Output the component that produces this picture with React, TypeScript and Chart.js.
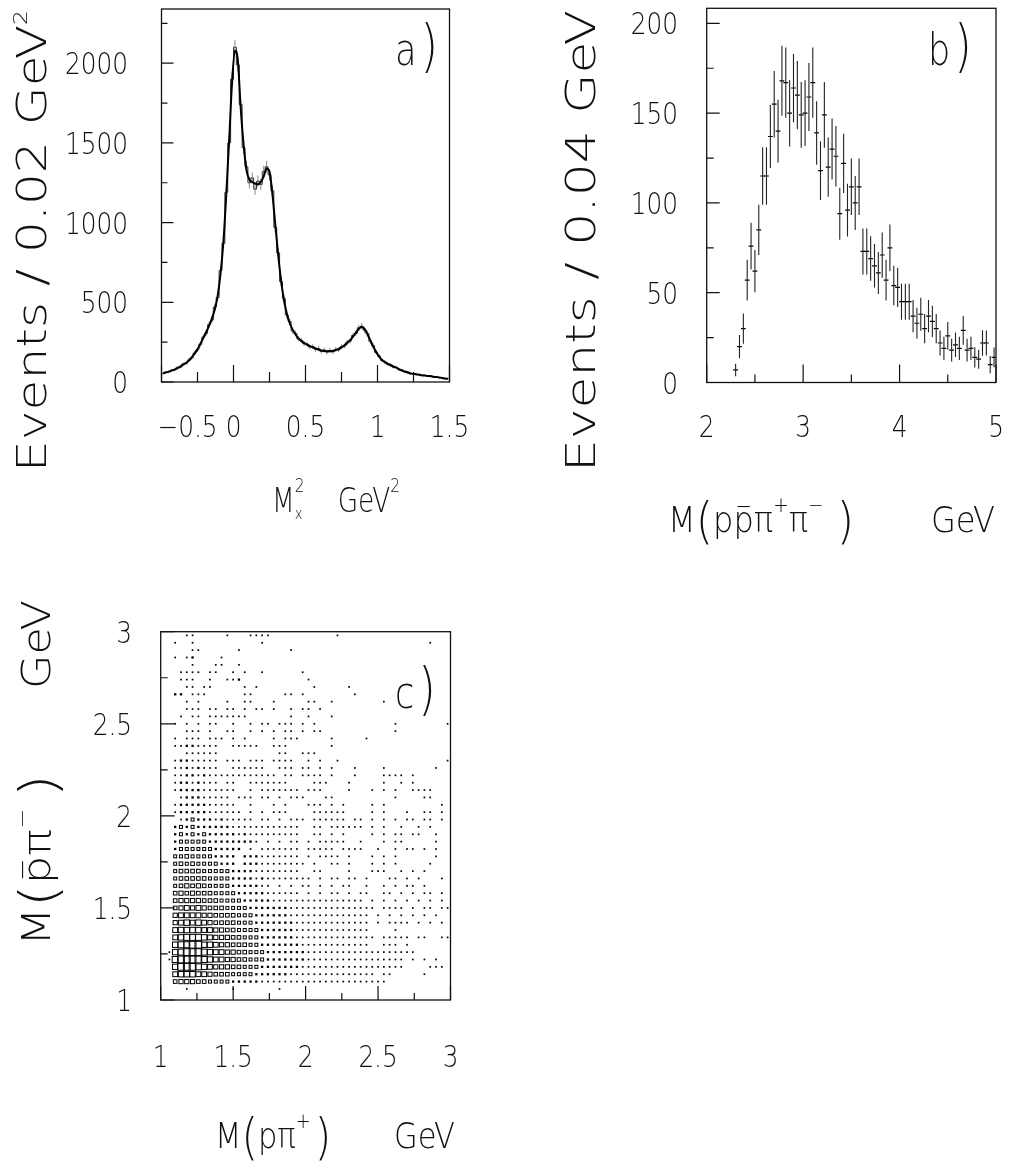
import React, { useEffect, useRef } from "react";
import { Chart, registerables } from "chart.js";
Chart.register(...registerables);

const W = 1010;
const H = 1169;
const FONT_FAMILY = "'DejaVu Sans', 'Liberation Sans', sans-serif";
const FONT_WEIGHT = 200;

// ---------------- Panel a : M_x^2 ----------------
const A_BIN_LO = -0.5;
const A_BIN_W = 0.02;
const A_HIST = [
  52, 62, 63, 74, 76, 90, 93, 112, 116, 138,
  152, 182, 203, 236, 282, 305, 360, 388, 470, 530,
  700, 870, 1190, 1500, 1900, 2100, 1990, 1740, 1470, 1350,
  1250, 1280, 1210, 1260, 1240, 1320, 1350, 1300, 1200, 970,
  810, 630, 525, 420, 380, 320, 305, 270, 262, 240,
  238, 220, 222, 205, 210, 192, 200, 188, 198, 190,
  205, 202, 222, 226, 250, 258, 292, 305, 340, 350,
  325, 305, 255, 228, 186, 164, 136, 128, 112, 108,
  94, 92, 78, 74, 64, 62, 52, 53, 46, 47,
  40, 42, 36, 38, 31, 33, 27, 26, 21, 22,
];
const A_FIT = [
  56, 60, 65, 71, 78, 86, 96, 108, 120, 134,
  155, 178, 205, 240, 275, 312, 352, 398, 455, 540,
  680, 880, 1180, 1520, 1880, 2080, 2020, 1720, 1490, 1330,
  1270, 1255, 1245, 1240, 1255, 1290, 1340, 1320, 1180, 990,
  800, 640, 515, 430, 370, 330, 300, 275, 258, 245,
  235, 225, 218, 210, 203, 198, 195, 193, 193, 195,
  200, 207, 217, 230, 245, 263, 285, 310, 333, 345,
  333, 300, 262, 222, 190, 160, 140, 125, 115, 105,
  97, 90, 80, 72, 66, 60, 54, 51, 48, 45,
  42, 40, 38, 36, 33, 31, 28, 25, 22, 20,
];
const A_X_MAJOR = [-0.5, 0, 0.5, 1, 1.5];
const A_X_MINOR = [-0.25, 0.25, 0.75, 1.25];
const A_X_LABELS = ["\u22120.5", "0", "0.5", "1", "1.5"];
const A_Y_MAJOR = [0, 500, 1000, 1500, 2000];
const A_Y_MINOR = [250, 750, 1250, 1750, 2250];
const A_Y_LABELS = ["0", "500", "1000", "1500", "2000"];

// ---------------- Panel b : M(p pbar pi+ pi-) ----------------
const B_BIN_LO = 2.28;
const B_BIN_W = 0.04;
const B_COUNTS = [
  7, 20, 30, 57, 76, 62, 85, 115, 115, 137,
  155, 140, 168, 167, 150, 164, 160, 149, 150, 159,
  167, 139, 118, 149, 120, 130, 126, 94, 122, 96,
  109, 100, 109, 73, 73, 69, 65, 61, 71, 57,
  75, 54, 53, 45, 45, 45, 37, 33, 38, 30,
  37, 34, 30, 22, 19, 26, 18, 21, 19, 29,
  18, 19, 14, 13, 22, 22, 10, 14,
];
const B_ERRORS = [
  3.5, 6.5, 8.4, 11.3, 13, 11.8, 14, 16, 16, 17.5,
  18.5, 17.5, 19.5, 19.5, 18.5, 19, 19, 18.3, 18.3, 19,
  19.5, 17.7, 16.3, 18.3, 16.5, 17, 16.8, 14.5, 16.5, 14.7,
  15.7, 15, 15.7, 12.8, 12.8, 12.4, 12.1, 11.7, 12.6, 11.3,
  13, 11, 10.9, 10, 10, 10, 9, 8.6, 9.2, 8.2,
  9, 8.7, 8.2, 7, 6.5, 7.7, 6.3, 6.8, 6.5, 8,
  6.3, 6.5, 5.7, 5.3, 7.1, 7, 4.8, 5.5,
];
const B_X_MAJOR = [2, 3, 4, 5];
const B_X_MINOR = [2.5, 3.5, 4.5];
const B_X_LABELS = ["2", "3", "4", "5"];
const B_Y_MAJOR = [0, 50, 100, 150, 200];
const B_Y_MINOR = [25, 75, 125, 175];
const B_Y_LABELS = ["0", "50", "100", "150", "200"];

// ---------------- Panel c : box plot ----------------
const C_BIN_LO = 1;
const C_BIN_W = 0.04;
// rows from the top (y = 3.00) down to y = 1.00; one digit per x-bin (0 = empty, 9 = largest box)
const C_ROWS = [
  "0000110000 0100011110 0000000000 1000000000 0000000000",
  "0010010000 0000000100 0000000000 0000000000 0000001000",
  "0000011000 0001000000 0010000000 0000000000 0000000000",
  "0010120000 1000000000 0000000000 0000000000 0000000000",
  "0000010001 1001000000 0000000000 0000000000 0000000000",
  "0001111011 0010100100 0000100000 0000000000 0000000000",
  "0001110010 0112000000 0000010000 0000000000 0000000000",
  "0000110110 0000101000 0000001000 0010000000 0000000000",
  "0022011100 0000110000 0110100000 0001000000 0000000000",
  "0000101000 0100110001 0000011001 0000000010 0000000000",
  "0000111011 0110101101 0010110100 0000000000 0000000000",
  "0001011011 1111100000 0010010001 0000000000 0000000000",
  "0010101011 0010010110 1110101000 0000000000 1000000001",
  "0000111010 0110010101 0110101100 0000000000 1000000000",
  "0010111011 1010100001 0111000001 0000010000 0000000000",
  "0011221111 0011111001 1100000001 0000000000 0000000000",
  "0000111111 0000000000 1100111000 0000000000 0000000000",
  "0012211111 0111011101 1110010100 1000000000 0000000001",
  "0011212111 0011111100 1110110101 0001000010 0000000100",
  "0011221211 1111111111 0110111101 0001000011 1101000000",
  "0012212111 0110011111 1100001110 0010000010 0101000000",
  "0012222111 1110010111 1111011100 0010001010 1001111000",
  "0001222111 1101110110 1011100011 0000000000 1000011000",
  "0012222211 1110010001 0100011101 0100001010 0000000010",
  "0012222211 1111010101 1100001111 1100001010 0010011010",
  "0001232221 2111110110 1011101111 1101101010 1011011010",
  "0023232222 2211111111 1111001101 1111101010 0100101000",
  "0023232322 2221211111 1111001101 0100001010 1101100100",
  "0023333322 2222221010 1011010111 1100100010 1100000100",
  "0023333332 2222010111 1111011111 0111100100 1011010100",
  "0033433332 2220222111 1111010111 1010001010 1000000100",
  "0034343333 2220222111 1111101001 1010001010 1000001000",
  "0034444333 3322221111 1111001100 0010001110 0101010000",
  "0034444433 3322221211 1111110101 1011010001 1010100010",
  "0034545433 3322222110 1010110101 0110010010 1011010000",
  "0045454443 3332222211 1111010101 1010110011 0101011010",
  "0045555444 3333222221 1111111111 1111101010 1010101010",
  "0045656544 4333322222 2211111111 1111111011 1101011011",
  "0056666554 4443332222 2211111111 1111110101 0101010100",
  "0056767654 4443332222 2221111111 1111110101 1110101010",
  "0067777665 5443333222 2221111111 1111110000 1000000000",
  "0067888765 5544333222 2221111111 1111111011 1110110011",
  "0078899776 5544433222 2222111111 1111110011 1010000000",
  "0178999876 6554433322 2222211111 1111111111 1111000000",
  "0189999876 6554433322 2222211111 1111111111 1101010100",
  "0079998765 5544333222 2222111111 1111111111 1100001110",
  "0067776654 4433332222 2211111111 1111111011 0000010000",
  "0045554433 3322222111 1111111111 1111111110 0000000000",
  "0000100000 0010000000 1000000000 0000000000 0000000000",
  "0000000000 0000000000 0000000000 0000000000 0000000000",
];
const C_TICK_MAJOR = [1, 1.5, 2, 2.5, 3];
const C_TICK_MINOR = [1.25, 1.75, 2.25, 2.75];
const C_TICK_LABELS = ["1", "1.5", "2", "2.5", "3"];

// ---------------- drawing styles ----------------
const BOX_SIZE = [0, 1.7, 2.3, 3.0, 3.6, 4.2, 4.8, 5.4, 6.0, 6.8];

type Piece = { s: string; cap: number; dy?: number; gap?: number; noAdv?: boolean; bar?: boolean };

function fontFor(cap: number) {
  return `${FONT_WEIGHT} ${(cap / 0.729).toFixed(2)}px ${FONT_FAMILY}`;
}

function drawRich(
  ctx: CanvasRenderingContext2D,
  x: number,
  y: number,
  pieces: Piece[],
  opts: { rot?: number; width?: number; sx?: number; align?: "left" | "center" | "right" } = {}
) {
  const sx0 = opts.sx ?? 0.82;
  ctx.save();
  const widths = pieces.map((p) => {
    ctx.font = fontFor(p.cap);
    return ctx.measureText(p.s).width * sx0;
  });
  let nat = 0;
  pieces.forEach((p, i) => {
    nat += p.gap || 0;
    if (!p.noAdv) nat += widths[i];
  });
  const k = opts.width ? opts.width / nat : 1;
  const total = nat * k;
  ctx.translate(x, y);
  if (opts.rot) ctx.rotate(opts.rot);
  let cx = opts.align === "center" ? -total / 2 : opts.align === "right" ? -total : 0;
  ctx.fillStyle = "#111";
  ctx.strokeStyle = "#111";
  ctx.textBaseline = "alphabetic";
  ctx.textAlign = "left";
  pieces.forEach((p, i) => {
    cx += (p.gap || 0) * k;
    const dy = p.dy || 0;
    ctx.save();
    ctx.translate(cx, dy);
    ctx.scale(sx0 * k, 1);
    ctx.font = fontFor(p.cap);
    ctx.fillText(p.s, 0, 0);
    ctx.restore();
    if (p.bar) {
      ctx.lineWidth = 1.1;
      ctx.beginPath();
      const yb = dy - p.cap * 0.98;
      ctx.moveTo(cx + widths[i] * k * 0.2, yb);
      ctx.lineTo(cx + widths[i] * k * 0.8, yb);
      ctx.stroke();
    }
    if (!p.noAdv) cx += widths[i] * k;
  });
  ctx.restore();
}

type AxisCfg = {
  major: number[];
  minor: number[];
  majorLen: number;
  minorLen: number;
  labels: string[];
  labelDx?: number[];
};
type FrameCfg = { x: AxisCfg; y: AxisCfg; xLabelBaseline: number; yLabelRight: number; cap: number };

function framePlugin(cfg: FrameCfg, drawExtra: (ctx: CanvasRenderingContext2D) => void) {
  return {
    id: "pawFrame",
    afterDraw(chart: any) {
      const { ctx, chartArea: ca } = chart;
      const xs = chart.scales.x;
      const ys = chart.scales.y;
      ctx.save();
      ctx.strokeStyle = "#111";
      ctx.lineWidth = 1.3;
      ctx.strokeRect(ca.left, ca.top, ca.right - ca.left, ca.bottom - ca.top);
      ctx.lineWidth = 1.2;
      ctx.beginPath();
      cfg.x.major.forEach((v) => {
        const p = xs.getPixelForValue(v);
        ctx.moveTo(p, ca.bottom);
        ctx.lineTo(p, ca.bottom - cfg.x.majorLen);
      });
      cfg.x.minor.forEach((v) => {
        const p = xs.getPixelForValue(v);
        ctx.moveTo(p, ca.bottom);
        ctx.lineTo(p, ca.bottom - cfg.x.minorLen);
      });
      cfg.y.major.forEach((v) => {
        const p = ys.getPixelForValue(v);
        ctx.moveTo(ca.left, p);
        ctx.lineTo(ca.left + cfg.y.majorLen, p);
      });
      cfg.y.minor.forEach((v) => {
        const p = ys.getPixelForValue(v);
        ctx.moveTo(ca.left, p);
        ctx.lineTo(ca.left + cfg.y.minorLen, p);
      });
      ctx.stroke();
      cfg.x.major.forEach((v, i) => {
        drawRich(
          ctx,
          xs.getPixelForValue(v) + (cfg.x.labelDx ? cfg.x.labelDx[i] : 0),
          cfg.xLabelBaseline,
          [{ s: cfg.x.labels[i], cap: cfg.cap }],
          { align: "center" }
        );
      });
      cfg.y.major.forEach((v, i) => {
        drawRich(
          ctx,
          cfg.yLabelRight,
          ys.getPixelForValue(v) + cfg.cap / 2 + (cfg.y.labelDx ? cfg.y.labelDx[i] : 0),
          [{ s: cfg.y.labels[i], cap: cfg.cap }],
          { align: "right" }
        );
      });
      drawExtra(ctx);
      ctx.restore();
    },
  };
}

const baseOptions = (pad: { l: number; t: number; r: number; b: number }, xr: [number, number], yr: [number, number]) => ({
  animation: false as const,
  responsive: false,
  devicePixelRatio: 1,
  events: [] as any[],
  layout: { padding: { left: pad.l, top: pad.t, right: W - pad.r, bottom: H - pad.b } },
  scales: {
    x: { type: "linear" as const, min: xr[0], max: xr[1], display: false },
    y: { type: "linear" as const, min: yr[0], max: yr[1], display: false },
  },
  plugins: { legend: { display: false }, tooltip: { enabled: false }, title: { display: false } },
});

function panelTag(ctx: CanvasRenderingContext2D, letter: string, x: number, baseline: number) {
  drawRich(ctx, x, baseline, [{ s: letter, cap: 32 }, { s: ")", cap: 41, gap: 4, dy: 0 }], { sx: 0.8 });
}

function makeA(canvas: HTMLCanvasElement) {
  const xs = A_HIST.map((_, i) => A_BIN_LO + (i + 0.5) * A_BIN_W);
  const errPlugin = {
    id: "aErr",
    beforeDatasetsDraw(chart: any) {
      const { ctx } = chart;
      const sx = chart.scales.x;
      const sy = chart.scales.y;
      ctx.save();
      ctx.strokeStyle = "#8a8a8a";
      ctx.lineWidth = 1;
      ctx.beginPath();
      A_HIST.forEach((v, i) => {
        const px = sx.getPixelForValue(xs[i]);
        const e = Math.sqrt(v);
        ctx.moveTo(px, sy.getPixelForValue(v - e));
        ctx.lineTo(px, sy.getPixelForValue(v + e));
      });
      ctx.stroke();
      ctx.restore();
    },
  };
  const frame = framePlugin(
    {
      x: { major: A_X_MAJOR, minor: A_X_MINOR, majorLen: 17, minorLen: 10, labels: A_X_LABELS, labelDx: [26, 0, 0, 0, 0] },
      y: { major: A_Y_MAJOR, minor: A_Y_MINOR, majorLen: 12, minorLen: 6, labels: A_Y_LABELS },
      xLabelBaseline: 437,
      yLabelRight: 128,
      cap: 22,
    },
    (ctx) => {
      drawRich(ctx, 46, 472, [{ s: "Events / 0.02 GeV", cap: 30 }, { s: "2", cap: 14, dy: -19 }], {
        rot: -Math.PI / 2,
        width: 462,
      });
      drawRich(
        ctx,
        272,
        512,
        [
          { s: "M", cap: 24 },
          { s: "x", cap: 12, dy: 7, noAdv: true },
          { s: "2", cap: 14, dy: -20 },
          { s: "GeV", cap: 24, gap: 34 },
          { s: "2", cap: 14, dy: -20 },
        ],
        { width: 128 }
      );
      panelTag(ctx, "a", 395, 65);
    }
  );
  return new Chart(canvas, {
    type: "line",
    data: {
      datasets: [
        {
          label: "fit",
          data: xs.map((x, i) => ({ x, y: A_FIT[i] })),
          borderColor: "#000",
          borderWidth: 2,
          pointRadius: 0,
          cubicInterpolationMode: "monotone",
          fill: false,
        },
        {
          label: "data",
          data: xs.map((x, i) => ({ x, y: A_HIST[i] })),
          borderColor: "#333",
          borderWidth: 1,
          pointRadius: 0,
          stepped: "middle",
          fill: false,
        },
      ],
    },
    options: baseOptions({ l: 161.5, t: 9, r: 449.5, b: 382 }, [-0.5, 1.5], [0, 2340]) as any,
    plugins: [errPlugin, frame],
  });
}

function makeB(canvas: HTMLCanvasElement) {
  const xs = B_COUNTS.map((_, i) => B_BIN_LO + (i + 0.5) * B_BIN_W);
  const errPlugin = {
    id: "bErr",
    afterDatasetsDraw(chart: any) {
      const { ctx } = chart;
      const sx = chart.scales.x;
      const sy = chart.scales.y;
      ctx.save();
      ctx.strokeStyle = "#222";
      ctx.lineWidth = 1.1;
      ctx.beginPath();
      B_COUNTS.forEach((v, i) => {
        const px = sx.getPixelForValue(xs[i]);
        ctx.moveTo(px, sy.getPixelForValue(v - B_ERRORS[i]));
        ctx.lineTo(px, sy.getPixelForValue(v + B_ERRORS[i]));
      });
      ctx.stroke();
      ctx.restore();
    },
  };
  const frame = framePlugin(
    {
      x: { major: B_X_MAJOR, minor: B_X_MINOR, majorLen: 18, minorLen: 8, labels: B_X_LABELS },
      y: { major: B_Y_MAJOR, minor: B_Y_MINOR, majorLen: 13, minorLen: 7, labels: B_Y_LABELS },
      xLabelBaseline: 437,
      yLabelRight: 678,
      cap: 22,
    },
    (ctx) => {
      drawRich(ctx, 595, 472, [{ s: "Events / 0.04 GeV", cap: 30 }], { rot: -Math.PI / 2, width: 462 });
      drawRich(
        ctx,
        668,
        532,
        [
          { s: "M", cap: 26 },
          { s: "(", cap: 36, dy: 6 },
          { s: "p", cap: 26 },
          { s: "p", cap: 26, bar: true },
          { s: "\u03c0", cap: 26 },
          { s: "+", cap: 15, dy: -20 },
          { s: "\u03c0", cap: 26 },
          { s: "\u2212", cap: 15, dy: -20 },
          { s: ")", cap: 36, dy: 6, gap: 12 },
          { s: "GeV", cap: 26, gap: 70 },
        ],
        { width: 327 }
      );
      panelTag(ctx, "b", 928, 65);
    }
  );
  return new Chart(canvas, {
    type: "scatter",
    data: {
      datasets: [
        {
          label: "data",
          data: xs.map((x, i) => ({ x, y: B_COUNTS[i] })),
          pointStyle: "line",
          pointRadius: 2.4,
          borderColor: "#000",
          backgroundColor: "#000",
          borderWidth: 1.2,
        },
      ],
    },
    options: baseOptions({ l: 706.7, t: 8.3, r: 996, b: 382.5 }, [2, 5], [0, 208.4]) as any,
    plugins: [errPlugin, frame],
  });
}

function makeC(canvas: HTMLCanvasElement) {
  const cells: { x: number; y: number; l: number }[] = [];
  C_ROWS.forEach((row, r) => {
    const s = row.replace(/ /g, "");
    for (let c = 0; c < s.length; c++) {
      const l = Number(s[c]);
      if (l > 0) {
        cells.push({ x: C_BIN_LO + (c + 0.5) * C_BIN_W, y: 3 - (r + 0.5) * C_BIN_W, l });
      }
    }
  });
  const boxPlugin = {
    id: "cBoxes",
    afterDatasetsDraw(chart: any) {
      const { ctx } = chart;
      const sx = chart.scales.x;
      const sy = chart.scales.y;
      const data = chart.data.datasets[0].data as { x: number; y: number; l: number }[];
      ctx.save();
      ctx.fillStyle = "#000";
      ctx.strokeStyle = "#000";
      ctx.lineWidth = 1;
      data.forEach((d) => {
        const px = sx.getPixelForValue(d.x);
        const py = sy.getPixelForValue(d.y);
        const s = BOX_SIZE[d.l];
        if (d.l <= 2) ctx.fillRect(px - s / 2, py - s / 2, s, s);
        else ctx.strokeRect(px - s / 2, py - s / 2, s, s);
      });
      ctx.restore();
    },
  };
  const frame = framePlugin(
    {
      x: { major: C_TICK_MAJOR, minor: C_TICK_MINOR, majorLen: 14, minorLen: 7, labels: C_TICK_LABELS },
      y: { major: C_TICK_MAJOR, minor: C_TICK_MINOR, majorLen: 14, minorLen: 7, labels: C_TICK_LABELS },
      xLabelBaseline: 1067,
      yLabelRight: 132,
      cap: 22,
    },
    (ctx) => {
      drawRich(
        ctx,
        50,
        946,
        [
          { s: "M", cap: 28 },
          { s: "(", cap: 38, dy: 6 },
          { s: "p", cap: 28, bar: true },
          { s: "\u03c0", cap: 28 },
          { s: "\u2212", cap: 15, dy: -21 },
          { s: ")", cap: 38, dy: 6, gap: 8 },
          { s: "GeV", cap: 28, gap: 60 },
        ],
        { rot: -Math.PI / 2, width: 346 }
      );
      drawRich(
        ctx,
        215,
        1148,
        [
          { s: "M", cap: 26 },
          { s: "(", cap: 36, dy: 6 },
          { s: "p", cap: 26 },
          { s: "\u03c0", cap: 26 },
          { s: "+", cap: 15, dy: -20 },
          { s: ")", cap: 36, dy: 6, gap: 4 },
          { s: "GeV", cap: 26, gap: 60 },
        ],
        { width: 240 }
      );
      panelTag(ctx, "c", 395, 708);
    }
  );
  return new Chart(canvas, {
    type: "scatter",
    data: {
      datasets: [
        {
          label: "cells",
          data: cells as any,
          pointRadius: 0,
          borderWidth: 0,
        },
      ],
    },
    options: baseOptions({ l: 160.7, t: 631.7, r: 450.5, b: 1000 }, [1, 3], [1, 3]) as any,
    plugins: [boxPlugin, frame],
  });
}

export default function App() {
  const ra = useRef<HTMLCanvasElement>(null);
  const rb = useRef<HTMLCanvasElement>(null);
  const rc = useRef<HTMLCanvasElement>(null);
  useEffect(() => {
    const charts = [makeA(ra.current!), makeB(rb.current!), makeC(rc.current!)];
    return () => charts.forEach((c) => c.destroy());
  }, []);
  const cs: React.CSSProperties = { position: "absolute", left: 0, top: 0, width: W, height: H };
  return (
    <div style={{ position: "absolute", left: 0, top: 0, width: W, height: H, background: "#fff", overflow: "hidden" }}>
      <canvas ref={ra} width={W} height={H} style={cs} />
      <canvas ref={rb} width={W} height={H} style={cs} />
      <canvas ref={rc} width={W} height={H} style={cs} />
    </div>
  );
}
